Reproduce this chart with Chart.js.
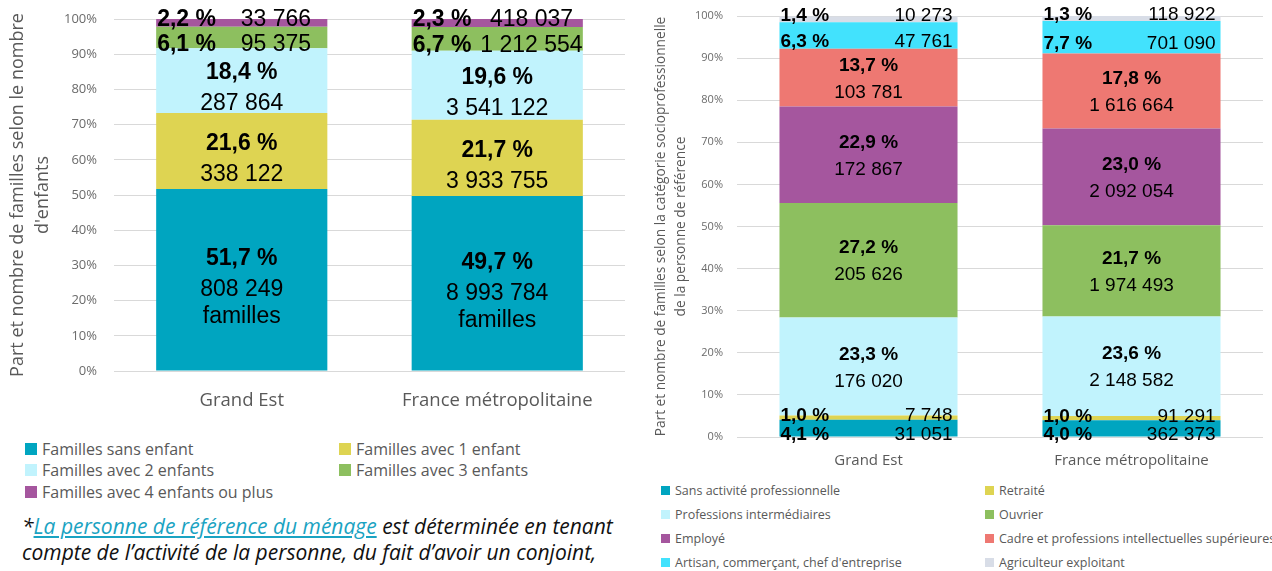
<!DOCTYPE html>
<html lang="fr">
<head>
<meta charset="utf-8">
<script src="https://cdn.jsdelivr.net/npm/chart.js@4"></script>
<style>
  body { margin: 0; width: 1272px; height: 571px; overflow: hidden; background: #fff; position: relative; font-family: "Open Sans", sans-serif; }
  #left { position: absolute; left: 0; top: 0; }
  #right { position: absolute; left: 645px; top: 0; }
  .legend { position: absolute; color: #595959; white-space: nowrap; }
  .legend .item { position: absolute; display: flex; align-items: center; }
  .legend .sq { display: inline-block; margin-right: 5px; }
  #note { position: absolute; left: 22px; top: 513px; font-style: italic; font-size: 21px; line-height: 26px; color: #111; white-space: nowrap; }
  #note a { color: #1aa3c2; text-decoration: underline; }
</style>
</head>
<body>
<canvas id="left" width="630" height="420"></canvas>
<canvas id="right" width="627" height="475"></canvas>
<div id="legendLeft" class="legend"></div>
<div id="legendRight" class="legend"></div>
<div id="note">*<a>La personne de référence du ménage</a> est déterminée en tenant<br>compte de l’activité de la personne, du fait d’avoir un conjoint,</div>

<script>
// --- data ---
const regions = ['Grand Est', 'France métropolitaine'];

// nombre d'enfants
const childLabels = ['Familles sans enfant', 'Familles avec 1 enfant', 'Familles avec 2 enfants', 'Familles avec 3 enfants', 'Familles avec 4 enfants ou plus'];
const childColors = ['#00a5c0', '#ded452', '#c1f3fd', '#8dbf5f', '#a5569e'];
const childPctGrandEst = [51.7, 21.6, 18.4, 6.1, 2.2];
const childPctFrance = [49.7, 21.7, 19.6, 6.7, 2.3];
const childCountGrandEst = [808249, 338122, 287864, 95375, 33766];
const childCountFrance = [8993784, 3933755, 3541122, 1212554, 418037];

// catégorie socioprofessionnelle
const cspLabels = ['Sans activité professionnelle', 'Retraité', 'Professions intermédiaires', 'Ouvrier', 'Employé', 'Cadre et professions intellectuelles supérieures', "Artisan, commerçant, chef d'entreprise", 'Agriculteur exploitant'];
const cspColors = ['#00a5c0', '#ded452', '#c1f3fd', '#8dbf5f', '#a5569e', '#ee7872', '#42e2fd', '#d8dde7'];
const cspPctGrandEst = [4.1, 1.0, 23.3, 27.2, 22.9, 13.7, 6.3, 1.4];
const cspPctFrance = [4.0, 1.0, 23.6, 21.7, 23.0, 17.8, 7.7, 1.3];
const cspCountGrandEst = [31051, 7748, 176020, 205626, 172867, 103781, 47761, 10273];
const cspCountFrance = [362373, 91291, 2148582, 1974493, 2092054, 1616664, 701090, 118922];

const yTicks = [0, 10, 20, 30, 40, 50, 60, 70, 80, 90, 100];

function fmtCount(n) {
    return String(n).replace(/\B(?=(\d{3})+(?!\d))/g, ' ');
}
function fmtPct(p) {
    return p.toFixed(1).replace('.', ',') + ' %';
}

// Labels inside each segment: big ones stacked & centered, small ones on one line
function segmentLabels(o) {
    return {
        id: 'segmentLabels',
        afterDatasetsDraw(chart) {
            const ctx = chart.ctx;
            const n = chart.data.datasets.length;
            const fix = o.size * 0.13; // 'middle' baseline sits a bit high for digits
            ctx.save();
            ctx.fillStyle = '#000';
            chart.data.datasets.forEach((ds, di) => {
                const meta = chart.getDatasetMeta(di);
                meta.data.forEach((bar, i) => {
                    const pct = ds.data[i];
                    const count = fmtCount(ds.counts[i]);
                    const left = bar.x - bar.width / 2;
                    const right = bar.x + bar.width / 2;
                    const mid = (bar.y + bar.base) / 2;
                    ctx.textBaseline = 'middle';
                    if (pct < o.smallLimit) {
                        let y = mid + fix;
                        if (di === n - 1) y -= 6;
                        else if (pct < 2) y -= 4;
                        else y += 4;
                        ctx.font = 'bold ' + o.size + 'px "Liberation Sans", Arial';
                        ctx.textAlign = 'left';
                        ctx.fillText(fmtPct(pct), left + 1, y);
                        ctx.font = o.size + 'px "Liberation Sans", Arial';
                        if (o.valueCenter) {
                            ctx.textAlign = 'center';
                            ctx.fillText(count, left + bar.width * o.valueCenter, y);
                        } else {
                            ctx.textAlign = 'right';
                            ctx.fillText(count, right - o.valueInset, y);
                        }
                    } else {
                        const lines = [count];
                        if (di === 0 && o.firstSuffix) lines.push(o.firstSuffix);
                        const span = o.gap + (lines.length - 1) * o.lineGap;
                        let y = mid + fix + o.shift - span / 2;
                        ctx.textAlign = 'center';
                        ctx.font = 'bold ' + o.size + 'px "Liberation Sans", Arial';
                        ctx.fillText(fmtPct(pct), bar.x, y);
                        y += o.gap;
                        ctx.font = o.size + 'px "Liberation Sans", Arial';
                        lines.forEach((t, k) => {
                            ctx.fillText(t, bar.x, y + k * o.lineGap);
                        });
                    }
                });
            });
            ctx.restore();
        }
    };
}

function buildDatasets(labels, colors, a, b, ca, cb) {
    return labels.map((lab, k) => ({
        label: lab,
        data: [a[k], b[k]],
        counts: [ca[k], cb[k]],
        backgroundColor: colors[k],
        borderWidth: 0
    }));
}

function makeChart(id, datasets, s) {
    return new Chart(document.getElementById(id), {
        type: 'bar',
        data: { labels: regions, datasets: datasets },
        options: {
            responsive: false,
            animation: false,
            events: [],
            datasets: { bar: { categoryPercentage: 1, barPercentage: s.barPct } },
            layout: { padding: { top: s.top, right: s.right, left: 0, bottom: 0 } },
            plugins: { legend: { display: false }, tooltip: { enabled: false } },
            scales: {
                x: {
                    stacked: true,
                    grid: { display: false, drawTicks: false },
                    border: { display: false },
                    ticks: { color: '#595959', padding: s.xPad, font: { family: 'Open Sans', size: s.xFont } },
                    afterFit(scale) { scale.height = s.xHeight; scale.paddingLeft = 0; scale.paddingRight = 0; }
                },
                y: {
                    stacked: true,
                    min: 0,
                    max: 100,
                    afterBuildTicks(scale) { scale.ticks = yTicks.map(v => ({ value: v })); },
                    grid: { color: '#d9d9d9', drawTicks: false },
                    border: { display: false },
                    ticks: { color: '#6b6b6b', padding: s.yPad, font: { family: 'Open Sans', size: s.yFont }, callback: v => v + '%' },
                    title: { display: true, text: s.title, color: '#595959', padding: { top: s.titlePad, bottom: 0 }, font: { family: 'Open Sans', size: s.titleFont, lineHeight: s.titleLH } },
                    afterFit(scale) {
                        scale.width = s.yWidth;
                        // tick padding is otherwise added above 100% and below 0%
                        scale.paddingTop = 0;
                        scale.paddingBottom = 0;
                    }
                }
            }
        },
        plugins: [segmentLabels(s.labels)]
    });
}

makeChart('left',
    buildDatasets(childLabels, childColors, childPctGrandEst, childPctFrance, childCountGrandEst, childCountFrance),
    {
        barPct: 0.67, top: 19, right: 5, xPad: 19, xFont: 18.5, xHeight: 49, yPad: 17, yFont: 13, yWidth: 114,
        title: ['Part et nombre de familles selon le nombre', "d'enfants"], titlePad: 5, titleFont: 18, titleLH: 1.4,
        labels: { smallLimit: 8, size: 23, gap: 31, lineGap: 27, shift: 5, valueCenter: 0.7, firstSuffix: 'familles' }
    });

makeChart('right',
    buildDatasets(cspLabels, cspColors, cspPctGrandEst, cspPctFrance, cspCountGrandEst, cspCountFrance),
    {
        barPct: 0.677, top: 16, right: 9, xPad: 15, xFont: 15, xHeight: 38, yPad: 14, yFont: 11, yWidth: 92,
        title: ['Part et nombre de familles selon la catégorie socioprofessionnelle', 'de la personne de référence'], titlePad: 6, titleFont: 13.7, titleLH: 1.45,
        labels: { smallLimit: 8, size: 19, gap: 27, lineGap: 20, shift: -1, valueInset: 5 }
    });

// HTML legends, two columns, filled row by row
function buildLegend(id, labels, colors, o) {
    const box = document.getElementById(id);
    box.style.left = o.x + 'px';
    box.style.top = o.y + 'px';
    box.style.fontSize = o.font + 'px';
    labels.forEach((lab, k) => {
        const item = document.createElement('div');
        item.className = 'item';
        item.style.left = (k % 2) * o.colGap + 'px';
        item.style.top = Math.floor(k / 2) * o.rowGap + 'px';
        item.style.height = o.rowGap + 'px';
        const sq = document.createElement('span');
        sq.className = 'sq';
        sq.style.width = o.sq + 'px';
        sq.style.height = o.sq + 'px';
        sq.style.background = colors[k];
        item.appendChild(sq);
        item.appendChild(document.createTextNode(lab));
        box.appendChild(item);
    });
}

buildLegend('legendLeft', childLabels, childColors, { x: 25, y: 438, font: 16, rowGap: 21.5, colGap: 314, sq: 12 });
buildLegend('legendRight', cspLabels, cspColors, { x: 661, y: 478, font: 12.5, rowGap: 24, colGap: 324, sq: 9 });
</script>
</body>
</html>
